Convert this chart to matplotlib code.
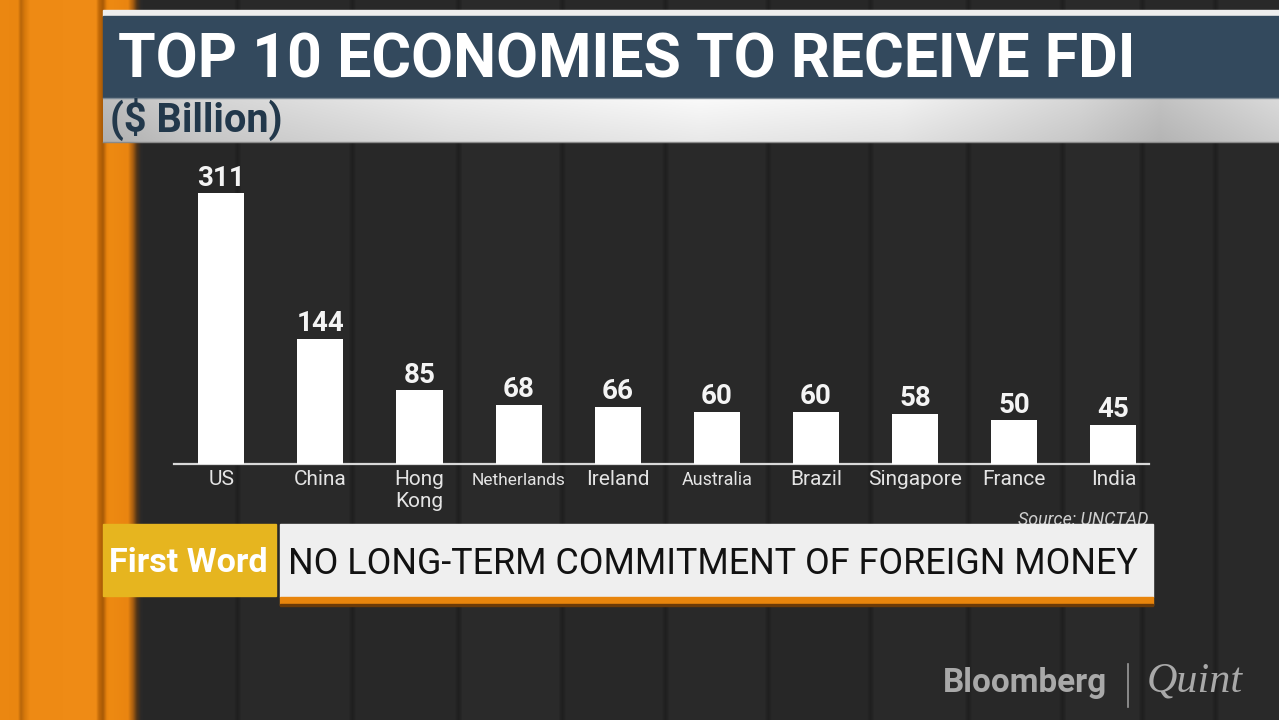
import numpy as np
import matplotlib
matplotlib.use("Agg")
import matplotlib.pyplot as plt
from matplotlib.patches import Rectangle
from matplotlib import font_manager

# ---------------- data ----------------
categories = ['US', 'China', 'Hong\nKong', 'Netherlands', 'Ireland',
              'Australia', 'Brazil', 'Singapore', 'France', 'India']
values = [311, 144, 85, 68, 66, 60, 60, 58, 50, 45]
title = 'TOP 10 ECONOMIES TO RECEIVE FDI'
subtitle = '($ Billion)'
source = 'Source: UNCTAD'
ticker_tag = 'First Word'
ticker_text = 'NO LONG-TERM COMMITMENT OF FOREIGN MONEY'

plt.rcParams['font.family'] = ['Roboto', 'DejaVu Sans']
installed = {f.name for f in font_manager.fontManager.ttflist}
narrow = ['Liberation Sans Narrow', 'Roboto', 'DejaVu Sans'] if 'Liberation Sans Narrow' in installed else ['Roboto', 'DejaVu Sans']

W, H = 1279, 720
fig = plt.figure(figsize=(W / 100, H / 100), dpi=100)
fig.patch.set_facecolor('#292929')
renderer = fig.canvas.get_renderer()


def fit(t, target_w):
    w = t.get_window_extent(renderer=renderer).width
    t.set_fontsize(t.get_fontsize() * target_w / w)
    return t


# ---------------- background ----------------
bg = fig.add_axes([0, 0, 1, 1])
bg.axis('off')

def hexrgb(h):
    h = h.lstrip('#')
    return np.array([int(h[i:i + 2], 16) / 255 for i in (0, 2, 4)])

# dark columns
gray = np.full(W, 0.16)
edges = [142, 237, 352, 458, 562, 665, 768, 870, 968, 1062, 1142, 1215, 1279]
shades = [0.155, 0.163, 0.157, 0.165, 0.158, 0.164, 0.156, 0.163, 0.158, 0.166, 0.160, 0.163]
for (a, b), s in zip(zip(edges[:-1], edges[1:]), shades):
    gray[a:b] = s
for e in edges[1:-1]:
    for d, v in zip(range(-3, 4), [0.150, 0.140, 0.130, 0.125, 0.130, 0.140, 0.150]):
        if 0 <= e + d < W:
            gray[e + d] = v
row = np.stack([gray, gray, gray], axis=1)

# orange left strip
opts = [(0, '#ec8812'), (18, '#ea8610'), (21, '#b8660a'), (25, '#d87a0c'), (30, '#ee8a14'),
        (96, '#f08c16'), (99, '#c26a08'), (103, '#a85a06'), (107, '#e8840e'), (110, '#ee8a12'),
        (128, '#ea8510'), (133, '#a85e10'), (137, '#503418'), (141, '#2b2928'), (143, '#292929')]
ox = np.array([p[0] for p in opts], float)
ocol = np.array([hexrgb(p[1]) for p in opts])
for c in range(3):
    row[:143, c] = np.interp(np.arange(143) + 0.5, ox, ocol[:, c])
bg.imshow(row[None, :, :], extent=(0, W, H, 0), aspect='auto', interpolation='bilinear', zorder=0)

# title bar
bg.add_patch(Rectangle((103, 10), W - 103, 6, color='#eeeeee', zorder=2))
bg.add_patch(Rectangle((103, 16), W - 103, 82, color='#33495d', zorder=2))
# subtitle gradient bar
gp = [(103, '#bcbcbc'), (200, '#d4d4d4'), (450, '#ececec'), (700, '#fafafa'),
      (900, '#f2f2f2'), (1080, '#d6d6d6'), (1160, '#c2c2c2'), (1279, '#dadada')]
gx = np.array([p[0] for p in gp], float)
gc = np.array([hexrgb(p[1]) for p in gp])
sx = np.arange(103, W) + 0.5
grad = np.stack([np.interp(sx, gx, gc[:, c]) for c in range(3)], axis=1)
vert = np.linspace(1.0, 0.93, 44)[:, None, None]
bg.imshow(np.clip(grad[None, :, :] * vert, 0, 1), extent=(103, W, 142, 98), aspect='auto',
          interpolation='bilinear', zorder=2)
bg.plot([103, W], [98, 98], color='#7d8a95', lw=1, zorder=3)
bg.plot([103, W], [142, 142], color='#8a8a8a', lw=1, zorder=3)

t = bg.text(118, 78, title, color='white', fontweight='bold', fontsize=41,
            va='baseline', ha='left', zorder=4)
fit(t, 1019)
t = bg.text(110, 132, subtitle, color='#22384b', fontweight='bold', fontsize=25,
            va='baseline', ha='left', zorder=4)
fit(t, 173)

# ticker
t = bg.text(1148, 525, source, color='#cfcfcf', fontstyle='italic', fontsize=11,
            va='baseline', ha='right', zorder=3)
fit(t, 130)
bg.add_patch(Rectangle((102.7, 523.5), 173.5, 72, color='#e6b51f', zorder=4))
bg.add_patch(Rectangle((279.5, 524), 873, 73, color='#efefef', zorder=4))
bg.add_patch(Rectangle((279.5, 596.5), 873, 8, color='#e8850c', zorder=4))
bg.add_patch(Rectangle((279.5, 604), 873, 1.5, color='#6a3a08', zorder=4))
t = bg.text(109, 571.5, ticker_tag, color='white', fontweight='bold', fontsize=23,
            va='baseline', ha='left', zorder=5)
fit(t, 159)
t = bg.text(288, 574, ticker_text, color='#121212', fontsize=25,
            va='baseline', ha='left', zorder=5)
fit(t, 849)

# logo
t = bg.text(943, 692, 'Bloomberg', color='#a9a9a9', fontweight='bold', fontsize=20,
            va='baseline', ha='left', zorder=5)
fit(t, 164)
bg.plot([1128, 1128], [664, 707], color='#9a9a9a', lw=1.2, zorder=5)
t = bg.text(1147, 692, 'Quint', color='#a9a9a9', fontstyle='italic', fontsize=26,
            family=['Liberation Serif', 'DejaVu Serif'], va='baseline', ha='left', zorder=5)
fit(t, 96)

bg.set_xlim(0, W)
bg.set_ylim(H, 0)

# ---------------- chart ----------------
base_y, top_y = 464, 150
left_px, right_px = 174, 1149
x0_px, unit_px = 221.2, 99.13
px_per_val = 0.8701
ax = fig.add_axes([left_px / W, (H - base_y) / H, (right_px - left_px) / W, (base_y - top_y) / H])
ax.set_facecolor('none')
ax.set_xlim((left_px - x0_px) / unit_px, (right_px - x0_px) / unit_px)
ax.set_ylim(0, (base_y - top_y) / px_per_val)
xpos = np.arange(len(categories))
ax.bar(xpos, values, width=0.465, color='white', zorder=3)
for s in ['top', 'right', 'left']:
    ax.spines[s].set_visible(False)
ax.spines['bottom'].set_color('#d9d9d9')
ax.spines['bottom'].set_linewidth(1.6)
ax.set_xticks([])
ax.set_yticks([])

for x, v in zip(xpos, values):
    ax.annotate(str(v), (x, v), xytext=(0, 5.4), textcoords='offset points',
                ha='center', va='baseline', color='#f4f4f4', fontweight='bold',
                fontsize=20)

condensed_w = {'Netherlands': 94, 'Australia': 71}
line_pt = 21.6 * 0.72
for x, c in zip(xpos, categories):
    for j, line in enumerate(c.split('\n')):
        t = ax.annotate(line, (x, 0), xycoords=('data', 'axes fraction'),
                        xytext=(0, -15.1 - j * line_pt), textcoords='offset points',
                        ha='center', va='baseline', color='#e4e4e4', fontsize=15,
                        family=narrow if line in condensed_w else None,
                        annotation_clip=False)
        if line in condensed_w:
            fit(t, condensed_w[line])

fig.savefig('out.png', dpi=100, facecolor=fig.get_facecolor())
